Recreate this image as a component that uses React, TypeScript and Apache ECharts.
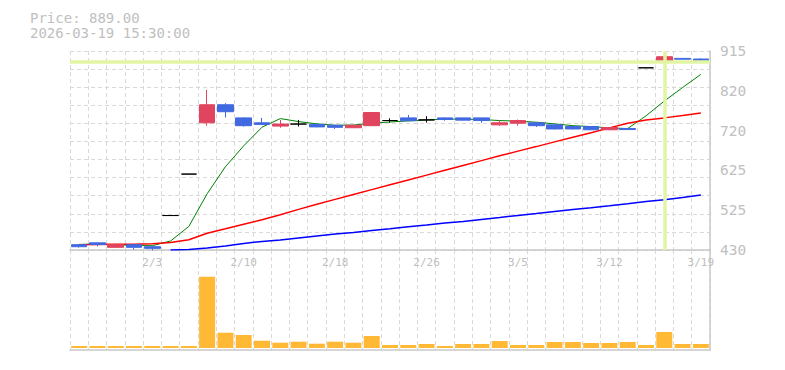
import React, { useEffect, useRef } from "react";
import * as echarts from "echarts";

const dates = [
  "1/28", "1/29", "1/30", "2/2", "2/3", "2/4", "2/5", "2/6", "2/9", "2/10",
  "2/12", "2/13", "2/16", "2/17", "2/18", "2/19", "2/20", "2/24", "2/25", "2/26",
  "2/27", "3/2", "3/3", "3/4", "3/5", "3/6", "3/9", "3/10", "3/11", "3/12",
  "3/13", "3/16", "3/17", "3/18", "3/19",
];
const xTickLabels = ["2/3", "2/10", "2/18", "2/26", "3/5", "3/12", "3/19"];

const opens = [443, 447.5, 436.5, 443, 438, 514, 615, 740, 784, 752, 740, 732, 737, 736, 734, 728, 733, 745.5, 752, 747, 752, 752, 752, 735, 739, 740, 735, 731, 731, 723, 726, 874, 889, 897, 895.5];
const closes = [438, 443.5, 443.5, 436.5, 434, 514, 615, 784, 767, 733, 736, 737, 737, 730, 729, 734, 765, 745.5, 745, 747, 748, 746.5, 745.5, 740, 745.5, 733, 725, 725, 723, 728.5, 723.5, 874, 901, 895, 891];
const lows = [436, 439, 436, 431, 429, 514, 615, 733, 753, 731, 735, 728, 731, 729, 725, 727, 732, 740.5, 744, 740.5, 745, 746, 740, 733, 733, 730, 724, 724, 722, 722, 723, 874, 889, 894, 889];
const highs = [444, 448, 445, 444.5, 438.5, 514, 615, 820, 788, 753, 752, 747, 747, 738, 735, 735, 766, 751, 759, 756, 753, 752.5, 752.5, 746, 748, 740.5, 735.5, 731, 731, 729, 726, 874, 915, 898, 897];

const maShort = [443.6, 444.5, 443, 441, 440.5, 452, 487.5, 567, 633, 683.8, 729.3, 750.3, 743, 737.4, 734, 734.5, 739, 742, 744.7, 747, 749, 749, 748, 745.5, 744, 741.5, 737.4, 733, 730.8, 727.6, 726, 757, 793, 826, 858];
const maMid = [443, 443.6, 444, 444, 445, 448.5, 455, 471, 481.8, 493, 503.7, 516, 529, 541.6, 553.4, 565.3, 577.2, 589, 600.8, 612.5, 624.2, 636, 647.8, 659.5, 671, 682, 693.5, 705, 716, 727.6, 739, 747, 752, 757.6, 764];
const maLong = [null, null, null, null, null, 430, 431.5, 434.8, 439.7, 446, 451, 454.3, 459.2, 464, 469, 472.8, 477.7, 481.8, 486.7, 490.8, 495.7, 499.6, 504.5, 509.3, 514.2, 519, 524, 528.8, 533, 537.8, 542.7, 548.3, 552.4, 558, 563.8];

const volumes = [100, 100, 100, 100, 100, 100, 100, 3565, 765, 650, 365, 265, 315, 215, 315, 265, 600, 150, 150, 200, 100, 200, 200, 350, 150, 150, 300, 300, 250, 250, 300, 150, 800, 200, 200];

const yMin = 430;
const yMax = 915;
const yInterval = 97;
const yTickLabels = ["430", "525", "625", "720", "820", "915"];

const cursorPrice = 889;
const cursorDate = "3/17";
const titlePrice = "Price: 889.00";
const titleTime = "2026-03-19 15:30:00";

const FONT = "DejaVu Sans Mono";
const GRID_COLOR = "#d9d9d9";
const AXIS_COLOR = "#c8c8c8";
const TEXT_COLOR = "#c0c0c0";

export default function App() {
  const ref = useRef<HTMLDivElement>(null);

  useEffect(() => {
    document.body.style.margin = "0";
    if (!ref.current) return;
    const chart = echarts.init(ref.current, null, { renderer: "svg" });
    const candleData = opens.map((o, i) => [o, closes[i], lows[i], highs[i]]);
    const dash = { color: GRID_COLOR, width: 1, type: [4, 3] as any };

    chart.setOption({
      animation: false,
      textStyle: { fontFamily: FONT },
      graphic: [
        {
          type: "text",
          left: 30,
          top: 11,
          style: { text: titlePrice, fill: TEXT_COLOR, font: `14px "${FONT}"` },
        },
        {
          type: "text",
          left: 30,
          top: 26,
          style: { text: titleTime, fill: TEXT_COLOR, font: `14px "${FONT}"` },
        },
      ],
      grid: [
        { left: 70, right: 75, top: 51, height: 199 },
        { left: 70, right: 75, top: 250, height: 100 },
      ],
      xAxis: [
        {
          type: "category",
          gridIndex: 0,
          data: dates,
          boundaryGap: true,
          axisLine: { show: true, lineStyle: { color: AXIS_COLOR, width: 1.5 } },
          axisTick: { show: false },
          axisLabel: {
            interval: (idx: number, val: string) => xTickLabels.includes(val),
            color: TEXT_COLOR,
            fontFamily: FONT,
            fontSize: 11,
            margin: 7,
          },
          splitLine: { show: true, interval: 0, lineStyle: dash },
        },
        {
          type: "category",
          gridIndex: 1,
          data: dates,
          boundaryGap: true,
          axisLine: { show: true, onZero: false, lineStyle: { color: AXIS_COLOR, width: 1.5 } },
          axisTick: { show: false },
          axisLabel: { show: false },
          splitLine: { show: true, interval: 0, lineStyle: dash },
        },
      ],
      yAxis: [
        {
          type: "value",
          gridIndex: 0,
          position: "right",
          min: yMin,
          max: yMax,
          interval: yInterval,
          axisLine: { show: true, lineStyle: { color: AXIS_COLOR, width: 1.5 } },
          axisTick: { show: false },
          splitLine: { show: false },
          axisLabel: {
            color: TEXT_COLOR,
            fontFamily: FONT,
            fontSize: 14.5,
            margin: 10,
            padding: [5, 0, 0, 0],
            formatter: (v: number) => yTickLabels[Math.round((v - yMin) / yInterval)],
          },
        },
        {
          type: "value",
          gridIndex: 0,
          position: "left",
          min: 0,
          max: 11,
          interval: 1,
          axisLine: { show: false },
          axisTick: { show: false },
          axisLabel: { show: false },
          splitLine: { show: true, lineStyle: dash },
        },
        {
          type: "value",
          gridIndex: 1,
          position: "right",
          min: -100,
          max: 4900,
          axisLine: { show: true, lineStyle: { color: AXIS_COLOR, width: 1.5 } },
          axisTick: { show: false },
          axisLabel: { show: false },
          splitLine: { show: false },
        },
      ],
      series: [
        {
          name: "cursor",
          type: "line",
          xAxisIndex: 0,
          yAxisIndex: 0,
          z: 1,
          data: dates.map(() => null),
          symbol: "none",
          silent: true,
          markLine: {
            silent: true,
            symbol: "none",
            label: { show: false },
            lineStyle: { color: "#e2f5a3", width: 3.5, type: "solid" },
            data: [{ yAxis: cursorPrice }, { xAxis: cursorDate }],
          },
        },
        {
          name: "MA short",
          type: "line",
          xAxisIndex: 0,
          yAxisIndex: 0,
          z: 2,
          data: maShort,
          symbol: "none",
          lineStyle: { color: "#008000", width: 1 },
        },
        {
          name: "MA mid",
          type: "line",
          xAxisIndex: 0,
          yAxisIndex: 0,
          z: 2,
          data: maMid,
          symbol: "none",
          lineStyle: { color: "#ff0000", width: 1.5 },
        },
        {
          name: "MA long",
          type: "line",
          xAxisIndex: 0,
          yAxisIndex: 0,
          z: 2,
          data: maLong,
          symbol: "none",
          lineStyle: { color: "#0000ff", width: 1.5 },
        },
        {
          name: "price",
          type: "candlestick",
          xAxisIndex: 0,
          yAxisIndex: 0,
          z: 3,
          barWidth: 16,
          data: candleData,
          itemStyle: {
            color: "#e0445e",
            color0: "#4169e1",
            borderColor: "#e0445e",
            borderColor0: "#4169e1",
            borderColorDoji: "#000000",
            borderWidth: 1,
          },
        },
        {
          name: "volume",
          type: "bar",
          xAxisIndex: 1,
          yAxisIndex: 2,
          barWidth: 16,
          data: volumes,
          itemStyle: { color: "#ffb934" },
        },
      ],
    });
    return () => chart.dispose();
  }, []);

  return <div ref={ref} style={{ width: 785, height: 370 }} />;
}
